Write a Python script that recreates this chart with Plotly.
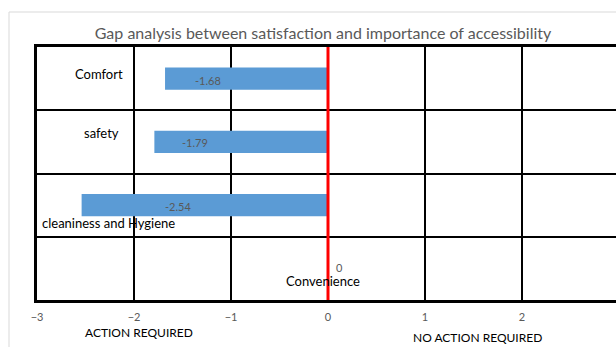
import plotly.graph_objects as go

# Gap scores per accessibility aspect (satisfaction minus importance)
categories = ["Comfort", "safety", "cleaniness and Hygiene", "Convenience"]
gap_values = [-1.68, -1.79, -2.54, 0]
x_ticks = [-3, -2, -1, 0, 1, 2, 3]

title_text = "Gap analysis between satisfaction and importance of accessibility"
left_note = "ACTION REQUIRED"
right_note = "NO ACTION REQUIRED"

# Label placement (pixel offsets) for category names and value labels
name_style = [
    dict(x=-2.1, xanchor="right", xshift=1, yshift=5),
    dict(x=-2.1, xanchor="right", xshift=-3, yshift=9),
    dict(x=-3, xanchor="left", xshift=3, yshift=-18),
    dict(x=0, xanchor="center", xshift=-5, yshift=-13),
]
value_shift = [43, 41, 96, 11]
value_yshift = [-2, -1, -1, 1]

W, H = 616, 347
ML, MR, MT, MB = 37, 0, 47, 47
px_per_unit = 97.0
x_left = -3
x_right = x_left + (W - ML - MR) / px_per_unit

fig = go.Figure()
fig.add_trace(go.Bar(
    x=gap_values,
    y=categories,
    orientation="h",
    width=0.35,
    marker=dict(color="#5B9BD5", line=dict(width=0)),
    hoverinfo="x+y",
))

font_family = "Lato, Open Sans, sans-serif"
annotations = []
for cat, val, st, vs, vy in zip(categories, gap_values, name_style, value_shift, value_yshift):
    annotations.append(dict(
        x=st["x"], y=cat, xref="x", yref="y", text=cat, showarrow=False,
        xanchor=st["xanchor"], xshift=st["xshift"], yshift=st["yshift"],
        font=dict(family=font_family, size=13, color="#000000"),
    ))
    annotations.append(dict(
        x=val, y=cat, xref="x", yref="y", text=f"{val:g}", showarrow=False,
        xanchor="center", xshift=vs, yshift=vy,
        font=dict(family=font_family, size=11, color="#595959"),
    ))

annotations.append(dict(
    x=(139 - ML) / (W - ML - MR), y=-(332 - (H - MB)) / (H - MT - MB),
    xref="paper", yref="paper", text=left_note, showarrow=False,
    xanchor="center", yanchor="middle",
    font=dict(family=font_family, size=12, color="#000000"),
))
annotations.append(dict(
    x=(477 - ML) / (W - ML - MR), y=-(337 - (H - MB)) / (H - MT - MB),
    xref="paper", yref="paper", text=right_note, showarrow=False,
    xanchor="center", yanchor="middle",
    font=dict(family=font_family, size=12, color="#000000"),
))

plot_w = W - ML - MR
plot_h = H - MT - MB
shapes = [
    # faint chart-area frame
    dict(type="line", xref="paper", yref="paper",
         x0=(9 - ML) / plot_w, x1=1.1, y0=1 + (MT - 12) / plot_h, y1=1 + (MT - 12) / plot_h,
         line=dict(color="#d9d9d9", width=1)),
    dict(type="line", xref="paper", yref="paper",
         x0=(9 - ML) / plot_w, x1=(9 - ML) / plot_w, y0=1 + (MT - 12) / plot_h, y1=-1.0,
         line=dict(color="#d9d9d9", width=1)),
    # red zero reference line
    dict(type="line", xref="x", yref="paper", x0=0, x1=0, y0=0, y1=1,
         line=dict(color="#ff0000", width=3), layer="above"),
]

fig.update_layout(
    width=W, height=H,
    margin=dict(l=ML, r=MR, t=MT, b=MB, pad=0),
    paper_bgcolor="#ffffff", plot_bgcolor="#ffffff",
    showlegend=False,
    title=dict(text=title_text, x=(323) / W, xanchor="center", y=1 - 33 / H, yanchor="middle",
               font=dict(family=font_family, size=16, color="#595959")),
    annotations=annotations,
    shapes=shapes,
    xaxis=dict(
        range=[x_left, x_right], tickvals=x_ticks, showgrid=True,
        gridcolor="#000000", gridwidth=2, zeroline=False,
        showline=True, linecolor="#000000", linewidth=2.5, mirror=True,
        ticks="", ticklabelstandoff=5,
        tickfont=dict(family=font_family, size=11, color="#595959"),
        fixedrange=True,
    ),
    yaxis=dict(
        type="category", categoryorder="array", categoryarray=categories[::-1],
        tickson="boundaries", showgrid=True, gridcolor="#000000", gridwidth=2,
        showticklabels=False, ticks="", zeroline=False,
        showline=True, linecolor="#000000", linewidth=2.5, mirror=False,
        fixedrange=True,
    ),
)

fig.write_html("out.html")
